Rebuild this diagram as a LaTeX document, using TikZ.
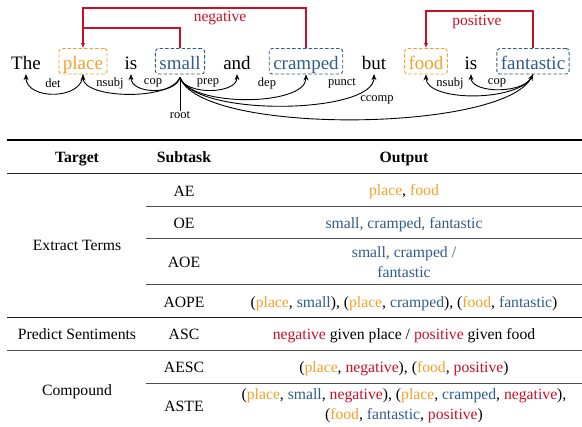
\documentclass[tikz,border=0pt]{standalone}
\usepackage{fontspec}
\setmainfont{Liberation Serif}
\usetikzlibrary{arrows.meta}
\definecolor{aspectorange}{RGB}{245,160,40}
\definecolor{opinionblue}{RGB}{47,92,140}
\definecolor{sentired}{RGB}{200,16,40}
\newcommand{\asp}[1]{\textcolor{aspectorange}{#1}}
\newcommand{\opi}[1]{\textcolor{opinionblue}{#1}}
\newcommand{\sen}[1]{\textcolor{sentired}{#1}}

\begin{document}
\begin{tikzpicture}[x=1pt,y=-1pt,
  word/.style={font=\fontsize{19}{19}\selectfont, anchor=base, text height=20pt, text depth=3.5pt, inner xsep=4pt, inner ysep=1pt},
  aspectbox/.style={word, draw=aspectorange, text=aspectorange, dash pattern=on 3.5pt off 2pt, line width=0.9pt, rounded corners=3pt},
  opinionbox/.style={word, draw=opinionblue, text=opinionblue, dash pattern=on 3.5pt off 2pt, line width=0.9pt, rounded corners=3pt},
  deplbl/.style={font=\fontsize{12.5}{12.5}\selectfont, inner sep=0pt},
  arc/.style={-{Stealth[length=6pt,width=5pt]}, line width=0.9pt},
  senti/.style={draw=sentired, line width=1.1pt},
  sentlbl/.style={font=\fontsize{15.5}{15.5}\selectfont, text=sentired, inner sep=0pt},
  cell/.style={font=\fontsize{15.7}{19.5}\selectfont, anchor=base, align=center, inner sep=0pt},
  head/.style={cell, font=\fontsize{15.7}{19.5}\selectfont\bfseries},
  rule/.style={line width=0.9pt, black!70}]
\useasboundingbox (0,0) rectangle (582,427);

\node[word] (The) at (26,69.5) {The};
\node[aspectbox] (place) at (83,69.5) {place};
\node[word] (is) at (131,69.5) {is};
\node[opinionbox] (small) at (180,69.5) {small};
\node[word] (and) at (237,69.5) {and};
\node[opinionbox] (cramped) at (306,69.5) {cramped};
\node[word] (but) at (374,69.5) {but};
\node[aspectbox] (food) at (426,69.5) {food};
\node[word] (isb) at (471,69.5) {is};
\node[opinionbox] (fantastic) at (533,69.5) {fantastic};

\draw[senti, -{Latex[length=5pt,width=4.5pt]}] (small.north) |- (place.north |- 0,28) -- (place.north);
\draw[senti] (cramped.north) |- (place.north |- 0,8) -- (place.north |- 0,28);
\node[sentlbl] (neg) at (220,18) {negative};
\draw[senti, -{Latex[length=5pt,width=4.5pt]}] (fantastic.north) |- (food.north |- 0,11) -- (food.north);
\node[sentlbl] (pos) at (477,22) {positive};

\coordinate (hub) at ([yshift=-3pt]small.south);
\draw[arc] (place.south) .. controls +(0,26) and +(0,26) .. (The.south);
\draw[arc] (hub) .. controls +(-10,24) and +(0,24) .. (place.south);
\draw[arc] (hub) .. controls +(-5,18) and +(0,20) .. (is.south);
\draw[arc] (hub) .. controls +(5,18) and +(0,20) .. (and.south);
\draw[arc] (hub) .. controls +(10,30) and +(0,32) .. (cramped.south);
\draw[arc] (hub) .. controls +(15,40) and +(0,40) .. (but.south);
\draw[arc] (hub) .. controls +(20,58) and +(-30,58) .. (fantastic.south);
\draw[arc] (fantastic.south) .. controls +(-10,28) and +(0,28) .. (food.south);
\draw[arc] (fantastic.south) .. controls +(-5,20) and +(0,20) .. (isb.south);

\node[deplbl] (ldet) at (53,83) {det};
\node[deplbl] (lnsubj) at (110,83) {nsubj};
\node[deplbl] (lcop) at (153,83) {cop};
\node[deplbl] (lprep) at (208,83) {prep};
\node[deplbl] (ldep) at (267,83) {dep};
\node[deplbl] (lpunct) at (342,83) {punct};
\node[deplbl] (lccomp) at (377,100) {ccomp};
\node[deplbl] (lnsubjb) at (450,83) {nsubj};
\node[deplbl] (lcopb) at (497,83) {cop};
\node[deplbl] (root) at (180,115) {root};
\draw[line width=0.9pt] (hub) -- (root.north);

\draw[line width=1.3pt] (7,140) -- (582,140);
\draw[rule, black!85] (7,173) -- (582,173);
\draw[rule] (146,206) -- (582,206);
\draw[rule] (146,238) -- (582,238);
\draw[rule] (146,284) -- (582,284);
\draw[rule, black!90] (7,317) -- (582,317);
\draw[rule] (7,350) -- (582,350);
\draw[rule] (146,383) -- (582,383);

\node[head] (htarget) at (77,163) {Target};
\node[head] (hsubtask) at (184,163) {Subtask};
\node[head] (houtput) at (404,163) {Output};

\node[cell] (extract) at (77,251) {Extract Terms};
\node[cell] (predict) at (77,340) {Predict Sentiments};
\node[cell] (compound) at (77,396) {Compound};

\node[cell] (ae) at (184,197) {AE};
\node[cell] (oe) at (184,229) {OE};
\node[cell] (aoe) at (184,268) {AOE};
\node[cell] (aope) at (184,308) {AOPE};
\node[cell] (asc) at (184,340) {ASC};
\node[cell] (aesc) at (184,373) {AESC};
\node[cell] (aste) at (184,412) {ASTE};

\node[cell] (oae) at (404,196) {\asp{place}, \asp{food}};
\node[cell] (ooe) at (404,229) {\opi{small, cramped, fantastic}};
\node[cell, anchor=center] (oaoe) at (404,262) {\opi{small, cramped /}\\\opi{fantastic}};
\node[cell] (oaope) at (404,308) {(\asp{place}, \opi{small}), (\asp{place}, \opi{cramped}), (\asp{food}, \opi{fantastic})};
\node[cell] (oasc) at (404,340) {\sen{negative} given place / \sen{positive} given food};
\node[cell] (oaesc) at (404,373) {(\asp{place}, \sen{negative}), (\asp{food}, \sen{positive})};
\node[cell, anchor=center] (oaste) at (404,405.5) {(\asp{place}, \opi{small}, \sen{negative}), (\asp{place}, \opi{cramped}, \sen{negative}),\\(\asp{food}, \opi{fantastic}, \sen{positive})};
\end{tikzpicture}
\end{document}
